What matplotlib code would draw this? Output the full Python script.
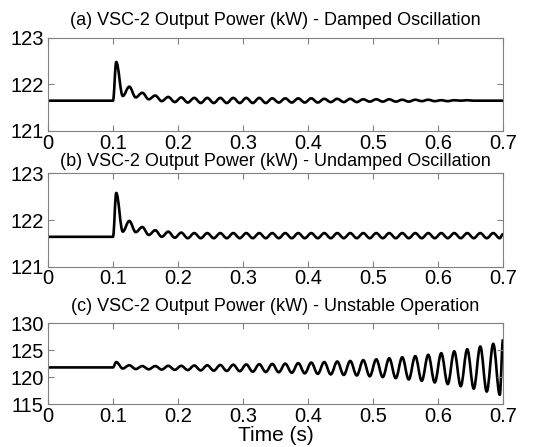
import numpy as np
import matplotlib
matplotlib.use("Agg")
import matplotlib.pyplot as plt
from matplotlib.path import Path
from matplotlib.patches import PathPatch

plt.rcParams['font.family'] = ['Liberation Sans', 'DejaVu Sans']

# ---------------- data ----------------
titles = [
    "(a) VSC-2 Output Power (kW) - Damped Oscillation",
    "(b) VSC-2 Output Power (kW) - Undamped Oscillation",
    "(c) VSC-2 Output Power (kW) - Unstable Operation",
]
xticks = [0, 0.1, 0.2, 0.3, 0.4, 0.5, 0.6, 0.7]
yticks_a = [121, 122, 123]
yticks_b = [121, 122, 123]
yticks_c = [115, 120, 125, 130]

# times of the oscillation peaks / troughs (50 Hz oscillation after a step at 0.1 s)
peak_times = [round(0.105 + 0.02 * k, 3) for k in range(30)]
trough_times = [round(0.115 + 0.02 * k, 3) for k in range(30)]
t_start, t_step, t_end = 0.0, 0.1, 0.7

# panel (a): damped oscillation
base_a = 121.65
peaks_a = [122.48, 121.95, 121.82, 121.76, 121.73, 121.72, 121.71, 121.71, 121.71, 121.71,
           121.71, 121.71, 121.70, 121.70, 121.70, 121.70, 121.69, 121.69, 121.69, 121.68,
           121.68, 121.68, 121.67, 121.67, 121.67, 121.66, 121.66, 121.66, 121.65, 121.65]
troughs_a = [121.75, 121.72, 121.68, 121.64, 121.62, 121.61, 121.60, 121.60, 121.60, 121.60,
             121.60, 121.60, 121.61, 121.61, 121.61, 121.61, 121.62, 121.62, 121.62, 121.63,
             121.63, 121.63, 121.63, 121.64, 121.64, 121.64, 121.65, 121.65, 121.65, 121.65]
end_a = 121.65

# panel (b): undamped oscillation
base_b = 121.64
peaks_b = [122.58, 121.98, 121.85, 121.78, 121.75, 121.73] + [121.72] * 24
troughs_b = [121.75, 121.74, 121.68, 121.64, 121.62, 121.61] + [121.61] * 24
end_b = 121.70

# panel (c): unstable operation
base_c = 121.8
peaks_c = [122.8, 122.2, 122.05, 122.05, 122.1, 122.1, 122.15, 122.2, 122.25, 122.3,
           122.35, 122.4, 122.45, 122.5, 122.6, 122.7, 122.8, 122.9, 123.0, 123.15,
           123.3, 123.5, 123.7, 123.9, 124.15, 124.45, 124.8, 125.2, 125.7, 126.2]
troughs_c = [121.6, 121.5, 121.45, 121.4, 121.35, 121.3, 121.25, 121.2, 121.15, 121.1,
             121.0, 120.95, 120.9, 120.8, 120.7, 120.6, 120.5, 120.4, 120.3, 120.15,
             120.0, 119.8, 119.55, 119.3, 119.0, 118.7, 118.3, 117.85, 117.3, 116.7]
end_c = 127.0


def build(base, peaks, troughs, end):
    t = [t_start, t_step]
    y = [base, base]
    for tp, p, tt, tr in zip(peak_times, peaks, trough_times, troughs):
        t += [tp, tt]
        y += [p, tr]
    t.append(t_end)
    y.append(end)
    return t, y


def smooth_path(t, y):
    """Straight baseline, then smooth (horizontal-tangent) Bezier segments
    between successive extrema, drawn in data coordinates."""
    verts = [(t[0], y[0]), (t[1], y[1])]
    codes = [Path.MOVETO, Path.LINETO]
    for i in range(2, len(t)):
        t0, y0 = t[i - 1], y[i - 1]
        t1, y1 = t[i], y[i]
        h = 0.36 * (t1 - t0)
        verts += [(t0 + h, y0), (t1 - h, y1), (t1, y1)]
        codes += [Path.CURVE4, Path.CURVE4, Path.CURVE4]
    return Path(verts, codes)


series = [
    build(base_a, peaks_a, troughs_a, end_a),
    build(base_b, peaks_b, troughs_b, end_b),
    build(base_c, peaks_c, troughs_c, end_c),
]
ylims = [(121, 123), (121, 123), (115, 130)]
ytick_sets = [yticks_a, yticks_b, yticks_c]
title_pads = [9, 5, 9]

# ---------------- figure ----------------
fig = plt.figure(figsize=(5.38, 4.47), dpi=100)
left, width = 48 / 538, 455 / 538
rects = [
    (left, 1 - 131 / 447, width, 93.3 / 447),
    (left, 1 - 266.7 / 447, width, 93.4 / 447),
    (left, 1 - 404 / 447, width, 80.7 / 447),
]
spine_col = '#808080'
fs_title, fs_tick, fs_label = 13.0, 14.5, 15
for i, r in enumerate(rects):
    ax = fig.add_axes(r)
    t, y = series[i]
    ax.add_patch(PathPatch(smooth_path(t, y), facecolor='none', edgecolor='black',
                           lw=1.9, joinstyle='round', capstyle='butt'))
    ax.set_xlim(0, 0.7)
    ax.set_ylim(*ylims[i])
    ax.set_xticks(xticks)
    ax.set_xticklabels([f"{v:g}" for v in xticks])
    ax.set_yticks(ytick_sets[i])
    ax.tick_params(direction='in', length=4, width=0.8, color=spine_col,
                   top=True, right=True, labelsize=fs_tick, labelcolor='black')
    ax.tick_params(axis='x', pad=2)
    ax.tick_params(axis='y', pad=3)
    for s in ax.spines.values():
        s.set_color(spine_col)
        s.set_linewidth(0.8)
    ax.set_title(titles[i], fontsize=fs_title, pad=title_pads[i])
    if i == 2:
        ax.set_xlabel("Time (s)", fontsize=fs_label, labelpad=0)

fig.savefig("out.png", dpi=100)
